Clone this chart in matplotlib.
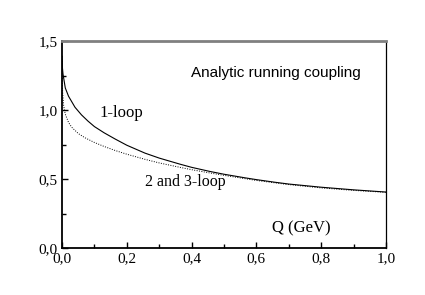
import matplotlib
matplotlib.use('Agg')
import matplotlib.pyplot as plt
from matplotlib.ticker import MultipleLocator, FuncFormatter

# values
q_one = [0, 0.001, 0.003, 0.01, 0.02, 0.04, 0.06, 0.08, 0.1, 0.13, 0.164, 0.2, 0.256,
         0.3, 0.364, 0.4, 0.457, 0.5, 0.565, 0.6, 0.657, 0.7, 0.8, 0.9, 1.0]
alpha_one = [1.39, 1.31, 1.26, 1.16, 1.10, 1.02, 0.965, 0.92, 0.88, 0.835, 0.79, 0.745, 0.688,
             0.652, 0.608, 0.585, 0.555, 0.535, 0.509, 0.496, 0.477, 0.464, 0.441, 0.422, 0.406]

q_two = [0, 0.001, 0.002, 0.005, 0.01, 0.02, 0.03, 0.05, 0.07, 0.1, 0.13, 0.164, 0.2, 0.256,
         0.3, 0.364, 0.4, 0.457, 0.5, 0.6, 0.7, 0.8, 0.9, 1.0]
alpha_two = [1.39, 1.19, 1.12, 1.03, 0.97, 0.91, 0.875, 0.83, 0.80, 0.765, 0.736, 0.707, 0.68, 0.643,
             0.617, 0.585, 0.568, 0.544, 0.527, 0.490, 0.460, 0.436, 0.418, 0.404]

serif = 'Liberation Serif'

fig = plt.figure(figsize=(4.25, 2.95), dpi=100)
ax = fig.add_axes([0.146, 0.159, 0.762, 0.702])

ax.plot(q_one, alpha_one, 'k-', lw=0.8)
ax.plot(q_two, alpha_two, color='k', ls=(0, (1, 1.5)), lw=0.7)

ax.set_xlim(0, 1.0)
ax.set_ylim(0, 1.5)
ax.xaxis.set_major_locator(MultipleLocator(0.2))
ax.xaxis.set_minor_locator(MultipleLocator(0.1))
ax.yaxis.set_major_locator(MultipleLocator(0.5))
ax.yaxis.set_minor_locator(MultipleLocator(0.25))
comma = FuncFormatter(lambda v, p: ('%.1f' % v).replace('.', ','))
ax.xaxis.set_major_formatter(comma)
ax.yaxis.set_major_formatter(comma)
ax.tick_params(which='both', direction='in', top=False, right=False,
               labelsize=11, width=1, pad=3)
ax.tick_params(which='major', length=4)
ax.tick_params(which='minor', length=3)
for lab in ax.get_xticklabels() + ax.get_yticklabels():
    lab.set_fontfamily(serif)

ax.spines['top'].set_color('#808080')
ax.spines['top'].set_linewidth(2)
ax.spines['left'].set_linewidth(1.3)
ax.spines['bottom'].set_linewidth(1.3)
ax.spines['right'].set_linewidth(0.9)

ax.text(0.66, 1.27, 'Analytic running coupling', family='Liberation Sans',
        fontsize=11, ha='center', va='center')
ax.text(0.117, 0.98, '1-loop', family=serif, fontsize=12, va='center')
ax.text(0.256, 0.48, '2 and 3-loop', family=serif, fontsize=11.5, va='center')
ax.text(0.648, 0.14, 'Q (GeV)', family=serif, fontsize=12, va='center')

fig.savefig('out.png', dpi=100)
